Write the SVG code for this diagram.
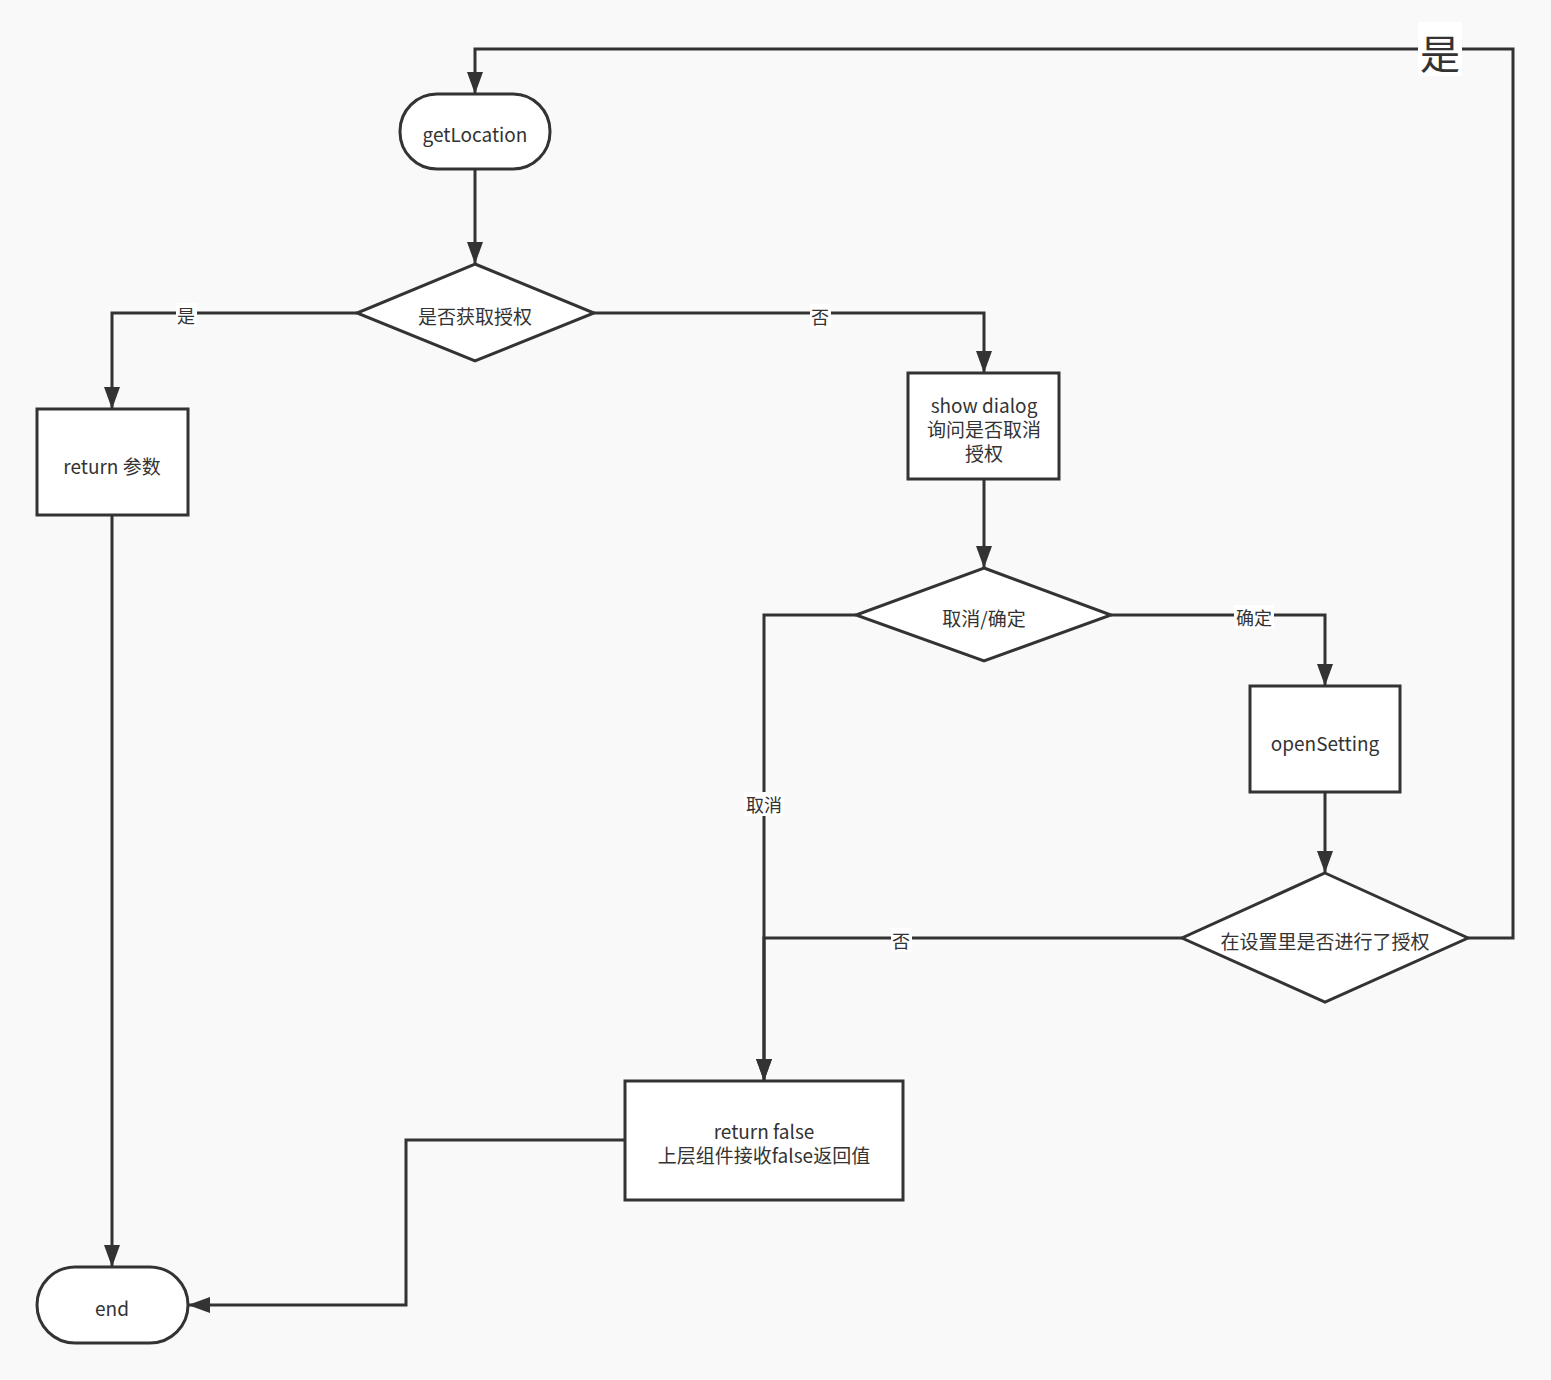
<svg xmlns="http://www.w3.org/2000/svg" width="1551" height="1380" viewBox="0 0 1551 1380">
<defs>
<marker id="arr" viewBox="0 0 22 16" refX="21" refY="8" markerWidth="22" markerHeight="16" markerUnits="userSpaceOnUse" orient="auto">
<path d="M0,0 L22,8 L0,16 Z" fill="#333"/>
</marker>
<style>
.n{fill:#fff;stroke:#333;stroke-width:3}
.t{font-family:"Noto Sans CJK SC","Noto Sans",sans-serif;font-size:19px;fill:#333;text-anchor:middle;dominant-baseline:central}
.e{fill:none;stroke:#333;stroke-width:3}
.lb{fill:#fff}
.l{font-family:"Noto Sans CJK SC","Noto Sans",sans-serif;font-size:18px;fill:#333;text-anchor:middle;dominant-baseline:central}
</style>
</defs>
<rect width="1551" height="1380" fill="#f9f9f9"/>
<g id="edges">
<path class="e" d="M1468,938 H1513 V49 H475 V93" marker-end="url(#arr)"/>
<path class="e" d="M475,169 V263" marker-end="url(#arr)"/>
<path class="e" d="M357,313 H112 V408" marker-end="url(#arr)"/>
<path class="e" d="M594,313 H984 V372" marker-end="url(#arr)"/>
<path class="e" d="M984,479 V567" marker-end="url(#arr)"/>
<path class="e" d="M1111,615 H1325 V685" marker-end="url(#arr)"/>
<path class="e" d="M1325,792 V872" marker-end="url(#arr)"/>
<path class="e" d="M856,615 H764 V1080" marker-end="url(#arr)"/>
<path class="e" d="M1182,938 H764 V1080" marker-end="url(#arr)"/>
<path class="e" d="M625,1140 H406 V1305 H189" marker-end="url(#arr)"/>
<path class="e" d="M112,515 V1266" marker-end="url(#arr)"/>
<rect class="lb" x="1418" y="22" width="44" height="54"/>
<text class="l" x="1440" y="52" style="font-size:40px">是</text>
<rect class="lb" x="176" y="303" width="21" height="24"/>
<text class="l" x="186" y="315">是</text>
<rect class="lb" x="810" y="304" width="21" height="24"/>
<text class="l" x="820" y="316">否</text>
<rect class="lb" x="1234" y="605" width="40" height="24"/>
<text class="l" x="1254" y="617">确定</text>
<rect class="lb" x="744" y="792" width="40" height="24"/>
<text class="l" x="764" y="804">取消</text>
<rect class="lb" x="891" y="928" width="21" height="24"/>
<text class="l" x="901" y="940">否</text>
</g>
<g id="getLocation">
<rect class="n" x="400" y="94" width="150" height="75" rx="37" ry="37"/>
<text class="t" x="475" y="133">getLocation</text>
</g>
<g id="auth">
<polygon class="n" points="475,264 594,313 475,361 357,313"/>
<text class="t" x="475" y="315">是否获取授权</text>
</g>
<g id="returnParam">
<rect class="n" x="37" y="409" width="151" height="106"/>
<text class="t" x="112" y="465">return 参数</text>
</g>
<g id="showDialog">
<rect class="n" x="908" y="373" width="151" height="106"/>
<text class="t" x="984" y="404">show dialog</text>
<text class="t" x="984" y="428">询问是否取消</text>
<text class="t" x="984" y="452">授权</text>
</g>
<g id="cancelConfirm">
<polygon class="n" points="984,568 1111,615 984,661 856,615"/>
<text class="t" x="984" y="617">取消/确定</text>
</g>
<g id="openSetting">
<rect class="n" x="1250" y="686" width="150" height="106"/>
<text class="t" x="1325" y="742">openSetting</text>
</g>
<g id="settingAuth">
<polygon class="n" points="1325,873 1468,938 1325,1002 1182,938"/>
<text class="t" x="1325" y="940">在设置里是否进行了授权</text>
</g>
<g id="returnFalse">
<rect class="n" x="625" y="1081" width="278" height="119"/>
<text class="t" x="764" y="1130">return false</text>
<text class="t" x="764" y="1154">上层组件接收false返回值</text>
</g>
<g id="end">
<rect class="n" x="37" y="1267" width="151" height="76" rx="38" ry="38"/>
<text class="t" x="112" y="1307">end</text>
</g>
</svg>
